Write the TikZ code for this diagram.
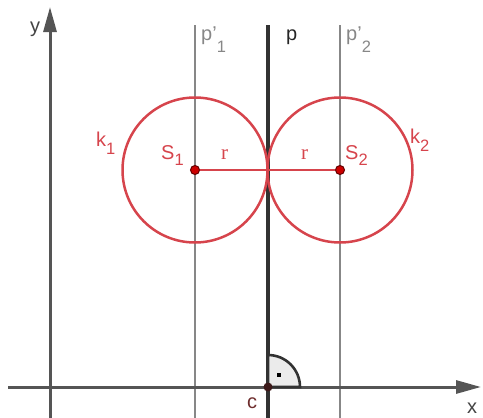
\documentclass[tikz,border=0pt]{standalone}
\usepackage{fontspec}
\setmainfont{Liberation Sans}
\newfontfamily\rfont{Liberation Serif}
\usetikzlibrary{arrows.meta}
\definecolor{kred}{RGB}{214,68,76}
\definecolor{axgray}{RGB}{85,85,85}
\definecolor{lgray}{RGB}{135,135,135}
\definecolor{pdark}{RGB}{50,50,50}
\definecolor{cbrown}{RGB}{110,45,45}
\newcommand\lsub[2]{\raisebox{-#1pt}{\fontsize{16.5}{16.5}\selectfont #2}}
\tikzset{
  axis/.style={draw=axgray, line width=3pt, -{Triangle[length=25pt,width=13pt]}},
  pline/.style={draw=lgray, line width=2.8pt},
  pmain/.style={draw=pdark, line width=3.2pt},
  kcircle/.style={draw=kred, line width=2.5pt, circle, inner sep=0pt},
  lab/.style={inner sep=0pt, anchor=base west, font=\fontsize{20}{20}\selectfont},
  redlab/.style={lab, text=kred},
  pt/.style={circle, fill=red!80!black, draw=black!60!red, line width=1pt, inner sep=0pt, minimum size=9pt},
}
\begin{document}
\begin{tikzpicture}[x=1pt,y=-1pt]
\useasboundingbox (0,0) rectangle (483,418);
% coordinates
\coordinate (xs) at (8,387);
\coordinate (xe) at (481,387);
\coordinate (ys) at (50,418);
\coordinate (ye) at (50,7);
\coordinate (p1t) at (195,25);
\coordinate (p1b) at (195,418);
\coordinate (pt0) at (268,25);
\coordinate (pb) at (268,418);
\coordinate (p2t) at (340,25);
\coordinate (p2b) at (340,418);
% lines
\draw[pline] (p1t) -- (p1b);
\draw[pline] (p2t) -- (p2b);
\draw[pmain] (pt0) -- (pb);
\draw[axis] (xs) -- (xe);
\draw[axis] (ys) -- (ye);
% circles
\node[kcircle, minimum size=145pt] (k1) at (195,170) {};
\node[kcircle, minimum size=145pt] (k2) at (340,170) {};
% right angle
\coordinate (c0) at (268,387);
\draw[draw=pdark, line width=2.6pt, fill=black!8] (c0) -- ++(32,0) arc[start angle=0, end angle=90, radius=32pt] -- cycle;
\node[fill=black, inner sep=0pt, minimum size=4pt] (dot) at (279,375) {};
\node[circle, fill=cbrown!55!black, inner sep=0pt, minimum size=9pt] (c) at (c0) {};
% radius segment
\node[pt] (S1) at (195,170) {};
\node[pt] (S2) at (340,170) {};
\draw[draw=kred, line width=2.3pt] (S1) -- (S2);
% labels
\node[lab, text=axgray!80!black] (ylab) at (30,32) {y};
\node[lab, text=axgray!80!black] (xlab) at (467,413) {x};
\node[lab, text=cbrown] (clab) at (247,408) {c};
\node[lab, text=lgray] (p1lab) at (201,40) {p'\lsub{12}{1}};
\node[lab, text=black!85] (plab) at (286,40) {p};
\node[lab, text=lgray] (p2lab) at (346,40) {p'\lsub{12}{2}};
\node[redlab] (k1lab) at (96,146) {k\lsub{8}{1}};
\node[redlab] (k2lab) at (410,143) {k\lsub{8}{2}};
\node[redlab] (S1lab) at (161,159) {S\lsub{6}{1}};
\node[redlab] (S2lab) at (345,159) {S\lsub{6}{2}};
\node[redlab, font=\rfont\fontsize{21}{21}\selectfont] (r1) at (221,159) {r};
\node[redlab, font=\rfont\fontsize{21}{21}\selectfont] (r2) at (301,159) {r};
\end{tikzpicture}
\end{document}
